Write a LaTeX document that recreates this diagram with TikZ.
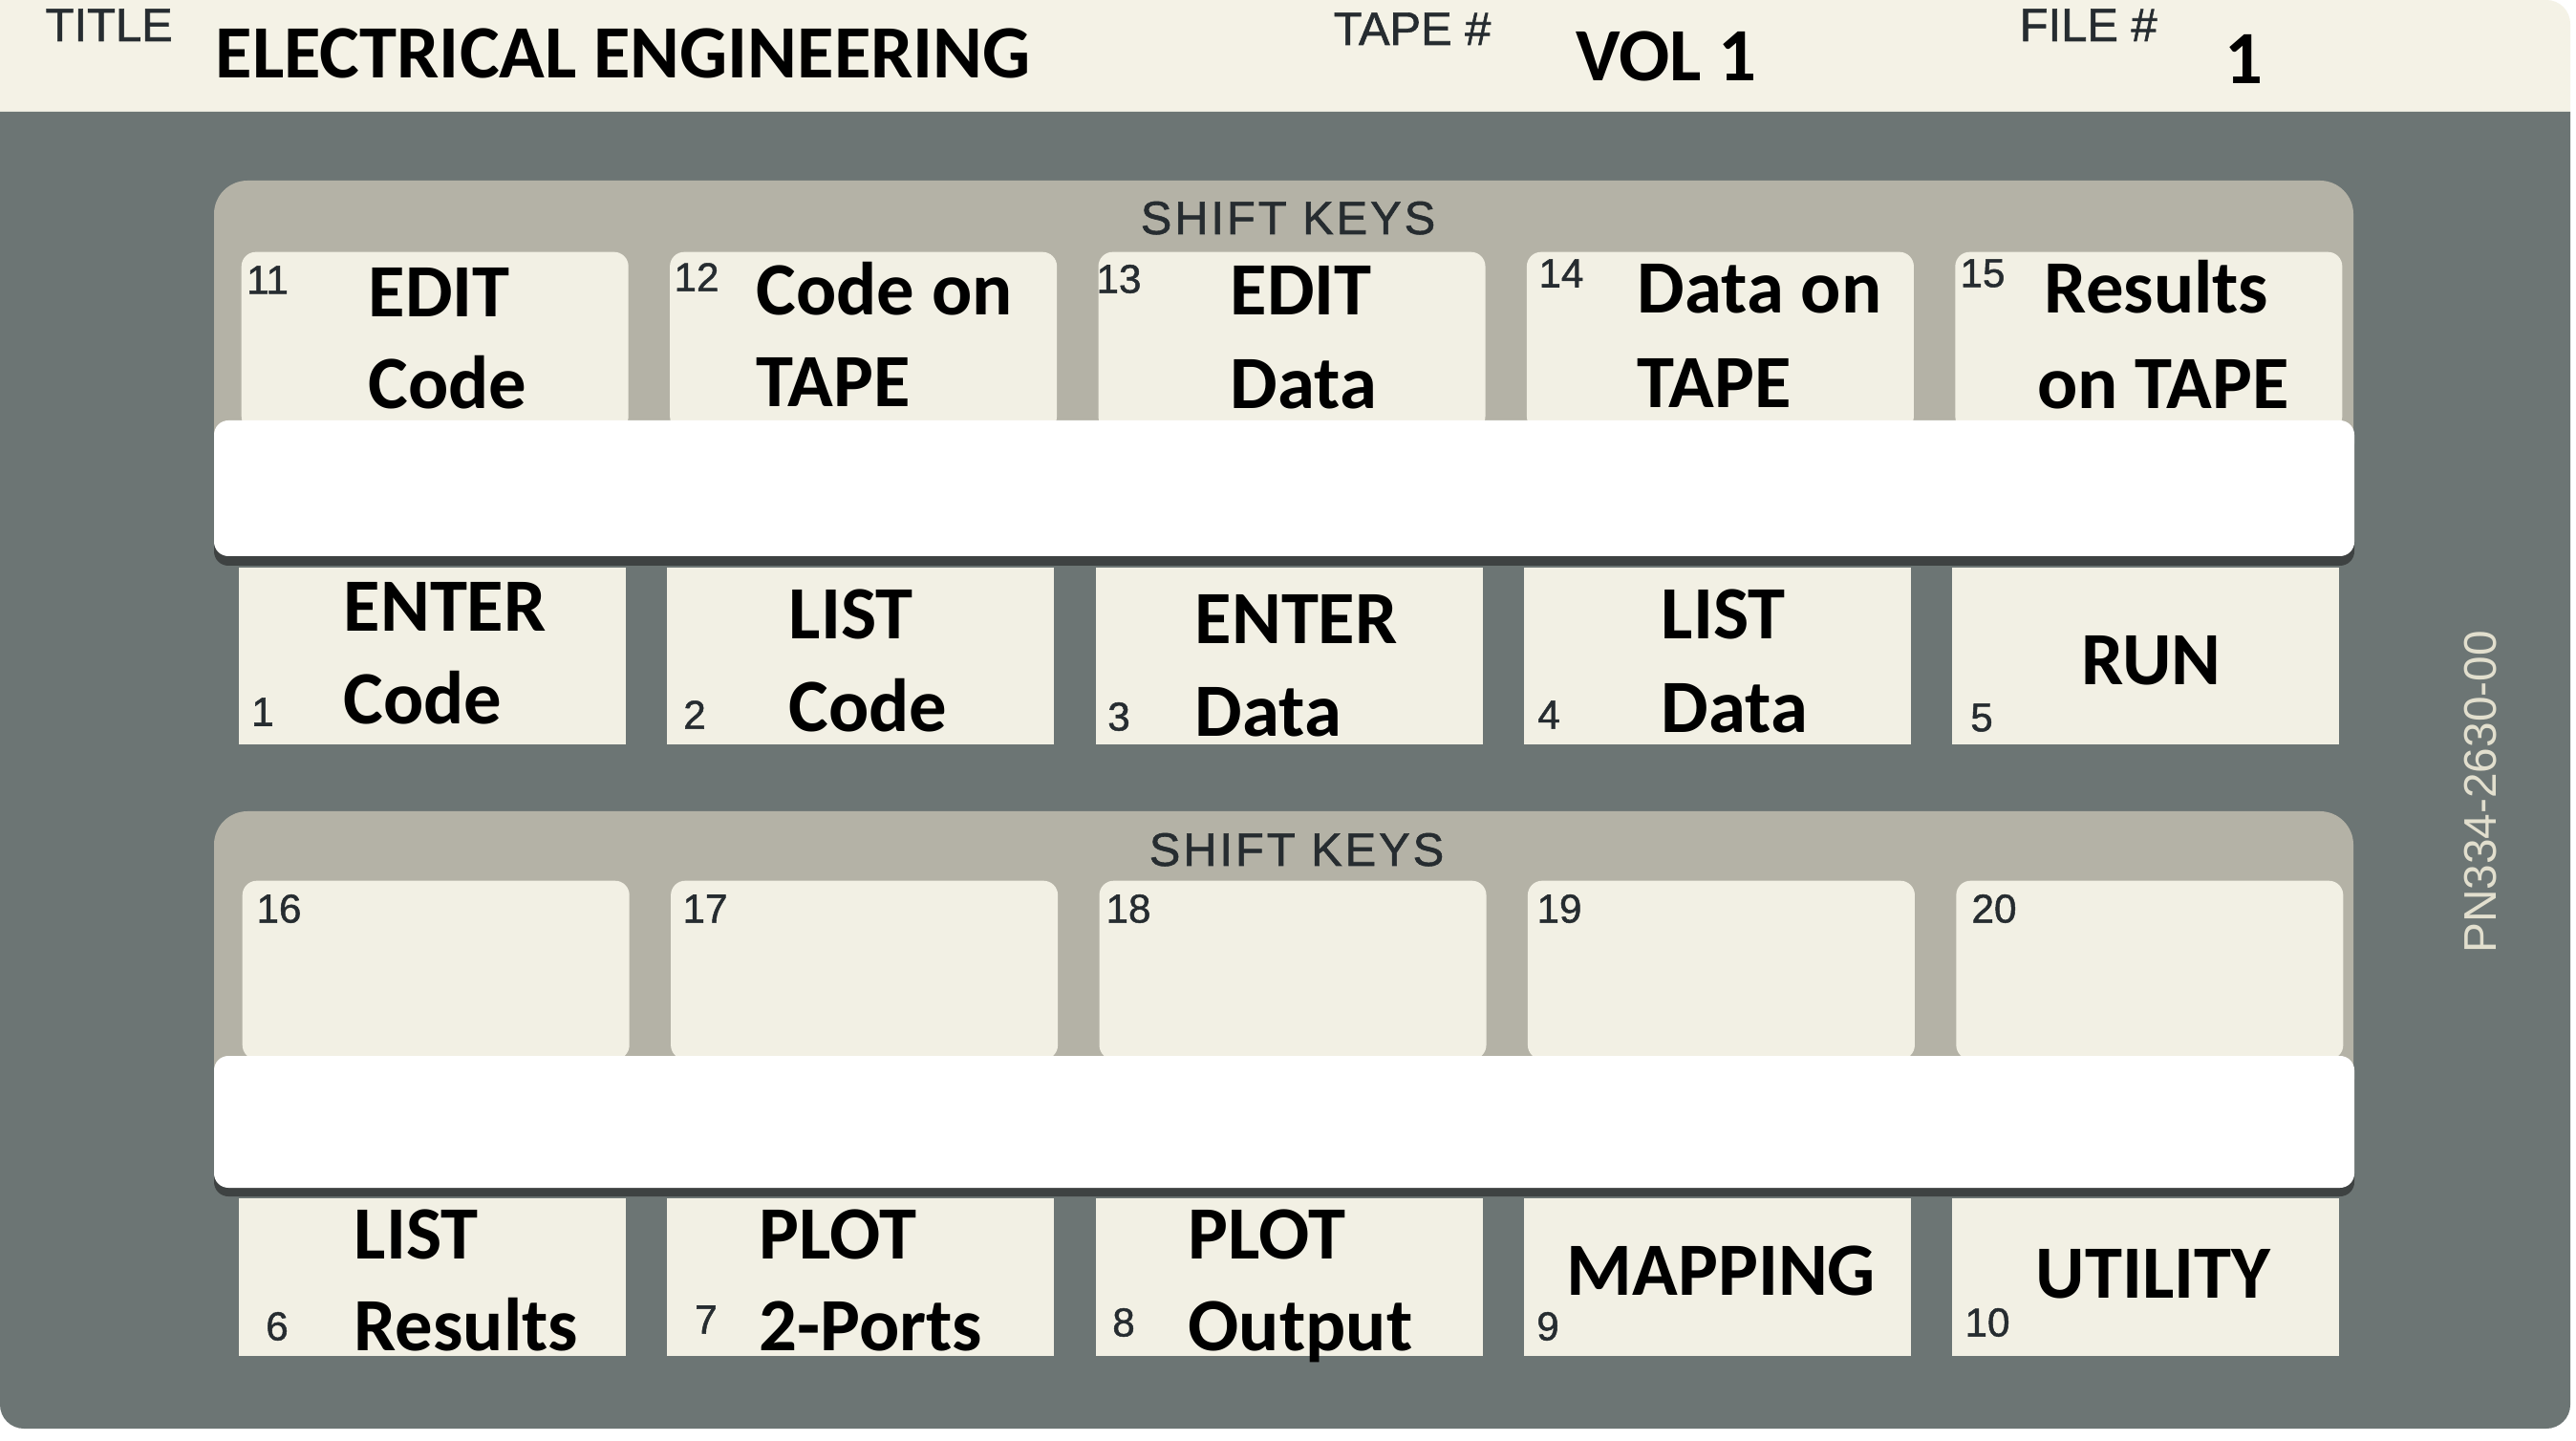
\documentclass[tikz,border=0pt]{standalone}
\usepackage{fontspec}
\usepackage{tikz}
\usetikzlibrary{positioning}
\newfontfamily\keyfont{Carlito}
\newfontfamily\tagfont[FakeBold=1.2]{Liberation Sans}
\newfontfamily\pnfont{Liberation Sans}
\newfontfamily\shiftfont[LetterSpace=6,FakeBold=1.2]{Liberation Sans}
\definecolor{cardgray}{RGB}{108,117,116}
\definecolor{cardcream}{RGB}{244,242,230}
\definecolor{keycream}{RGB}{242,240,228}
\definecolor{panelgray}{RGB}{180,178,166}
\definecolor{inkgray}{RGB}{38,44,48}
\definecolor{pngray}{RGB}{226,223,206}
\definecolor{stripshadow}{RGB}{62,66,66}
\tikzstyle{upkey} = [rectangle, rounded corners=0.15cm, minimum width=4.05cm, minimum height=1.87cm,
inner sep=0pt, fill=keycream]
\tikzstyle{lowkey} = [rectangle, minimum width=4.05cm, minimum height=1.85cm, inner sep=0pt, fill=keycream]
\tikzstyle{botkey} = [rectangle, minimum width=4.05cm, minimum height=1.65cm, inner sep=0pt, fill=keycream]
\tikzstyle{keytext} = [anchor=base west, inner sep=0pt, font=\keyfont\bfseries\fontsize{22.4}{27}\selectfont]
\tikzstyle{keynum} = [inner sep=0pt, text=inkgray, font=\tagfont\fontsize{12}{14}\selectfont]
\tikzstyle{tag} = [anchor=base west, inner sep=0pt, text=inkgray, font=\tagfont\fontsize{13.9}{16}\selectfont]
\tikzstyle{shifttag} = [anchor=base, inner sep=0pt, text=inkgray, font=\shiftfont\fontsize{13.9}{16}\selectfont]

\begin{document}
\begin{tikzpicture}
  \useasboundingbox (0,0) rectangle (26.96,-15.08);
  \fill[white] (0,0) rectangle (26.96,-15.08);
  % card body
  \fill[cardcream] (0,0) -- (26.65,0) arc[start angle=90, end angle=0, radius=0.25cm] -- (26.90,-1.20) -- (0,-1.20) -- cycle;
  \fill[cardgray] (0,-1.17) -- (26.90,-1.17) -- (26.90,-14.70) arc[start angle=0, end angle=-90, radius=0.25cm]
    -- (0.25,-14.95) arc[start angle=270, end angle=180, radius=0.25cm] -- cycle;
  % header
  \node (title) [tag] at (0.47,-0.43) {TITLE};
  \node (titletext) [keytext] at (2.25,-0.82) {ELECTRICAL ENGINEERING};
  \node (tape) [tag] at (13.95,-0.47) {TAPE \#};
  \node (tapetext) [keytext] at (16.49,-0.85) {VOL 1};
  \node (file) [tag] at (21.13,-0.43) {FILE \#};
  \node (filetext) [keytext] at (23.28,-0.88) {1};
  % upper block
  \fill[panelgray, rounded corners=0.35cm] (2.24,-1.89) rectangle (24.63,-5.0);
  \node (shift1) [shifttag] at (13.48,-2.45) {SHIFT KEYS};
  \node (k11) [upkey, anchor=north west] at (2.52,-2.63) {};
  \node (k12) [upkey, right=0.42cm of k11] {};
  \node (k13) [upkey, right=0.42cm of k12] {};
  \node (k14) [upkey, right=0.42cm of k13] {};
  \node (k15) [upkey, right=0.42cm of k14] {};
  \fill[stripshadow, rounded corners=0.15cm] (2.24,-4.50) rectangle (24.64,-5.92);
  \fill[white, rounded corners=0.15cm] (2.24,-4.40) rectangle (24.64,-5.82);
  \node (k1) [lowkey, anchor=north west] at (2.49,-5.93) {};
  \node (k2) [lowkey, right=0.42cm of k1] {};
  \node (k3) [lowkey, right=0.42cm of k2] {};
  \node (k4) [lowkey, right=0.42cm of k3] {};
  \node (k5) [lowkey, right=0.42cm of k4] {};
  % lower block
  \fill[panelgray, rounded corners=0.35cm] (2.24,-8.49) rectangle (24.63,-11.6);
  \node (shift2) [shifttag] at (13.57,-9.06) {SHIFT KEYS};
  \node (k16) [upkey, anchor=north west] at (2.53,-9.21) {};
  \node (k17) [upkey, right=0.42cm of k16] {};
  \node (k18) [upkey, right=0.42cm of k17] {};
  \node (k19) [upkey, right=0.42cm of k18] {};
  \node (k20) [upkey, right=0.42cm of k19] {};
  \fill[stripshadow, rounded corners=0.15cm] (2.24,-11.15) rectangle (24.64,-12.52);
  \fill[white, rounded corners=0.15cm] (2.24,-11.05) rectangle (24.64,-12.43);
  \node (k6) [botkey, anchor=north west] at (2.49,-12.53) {};
  \node (k7) [botkey, right=0.42cm of k6] {};
  \node (k8) [botkey, right=0.42cm of k7] {};
  \node (k9) [botkey, right=0.42cm of k8] {};
  \node (k10) [botkey, right=0.42cm of k9] {};
  % shift key labels
  \node (n11) [keynum] at (2.80,-2.93) {11};
  \node (t11a) [keytext] at (3.85,-3.32) {EDIT};
  \node (t11b) [keytext] at (3.85,-4.28) {Code};
  \node (n12) [keynum] at (7.29,-2.90) {12};
  \node (t12a) [keytext] at (7.91,-3.30) {Code on};
  \node (t12b) [keytext] at (7.91,-4.26) {TAPE};
  \node (n13) [keynum] at (11.71,-2.92) {13};
  \node (t13a) [keytext] at (12.87,-3.30) {EDIT};
  \node (t13b) [keytext] at (12.87,-4.28) {Data};
  \node (n14) [keynum] at (16.34,-2.86) {14};
  \node (t14a) [keytext] at (17.13,-3.28) {Data on};
  \node (t14b) [keytext] at (17.13,-4.27) {TAPE};
  \node (n15) [keynum] at (20.75,-2.86) {15};
  \node (t15a) [keytext, anchor=base] at (22.57,-3.28) {Results};
  \node (t15b) [keytext, anchor=base] at (22.64,-4.28) {on TAPE};
  % key labels 1-5
  \node (n1) [keynum] at (2.75,-7.45) {1};
  \node (t1a) [keytext] at (3.59,-6.61) {ENTER};
  \node (t1b) [keytext] at (3.59,-7.58) {Code};
  \node (n2) [keynum] at (7.27,-7.48) {2};
  \node (t2a) [keytext] at (8.25,-6.69) {LIST};
  \node (t2b) [keytext] at (8.25,-7.66) {Code};
  \node (n3) [keynum] at (11.71,-7.50) {3};
  \node (t3a) [keytext] at (12.50,-6.74) {ENTER};
  \node (t3b) [keytext] at (12.50,-7.71) {Data};
  \node (n4) [keynum] at (16.21,-7.48) {4};
  \node (t4a) [keytext] at (17.38,-6.69) {LIST};
  \node (t4b) [keytext] at (17.38,-7.67) {Data};
  \node (n5) [keynum] at (20.74,-7.51) {5};
  \node (t5a) [keytext] at (21.78,-7.17) {RUN};
  % shift key labels 16-20
  \node (n16) [keynum] at (2.92,-9.51) {16};
  \node (n17) [keynum] at (7.38,-9.51) {17};
  \node (n18) [keynum] at (11.81,-9.51) {18};
  \node (n19) [keynum] at (16.32,-9.51) {19};
  \node (n20) [keynum] at (20.87,-9.51) {20};
  % key labels 6-10
  \node (n6) [keynum] at (2.90,-13.88) {6};
  \node (t6a) [keytext] at (3.70,-13.17) {LIST};
  \node (t6b) [keytext] at (3.70,-14.13) {Results};
  \node (n7) [keynum] at (7.39,-13.81) {7};
  \node (t7a) [keytext] at (7.94,-13.17) {PLOT};
  \node (t7b) [keytext] at (7.94,-14.13) {2-Ports};
  \node (n8) [keynum] at (11.76,-13.84) {8};
  \node (t8a) [keytext] at (12.43,-13.17) {PLOT};
  \node (t8b) [keytext] at (12.43,-14.13) {Output};
  \node (n9) [keynum] at (16.20,-13.88) {9};
  \node (t9a) [keytext] at (16.39,-13.55) {MAPPING};
  \node (n10) [keynum] at (20.80,-13.84) {10};
  \node (t10a) [keytext] at (21.30,-13.58) {UTILITY};
  % part number
  \node (pn) [rotate=90, inner sep=0pt, text=pngray, font=\pnfont\fontsize{13.6}{16}\selectfont] at (25.96,-8.29) {PN334-2630-00};
\end{tikzpicture}
\end{document}
